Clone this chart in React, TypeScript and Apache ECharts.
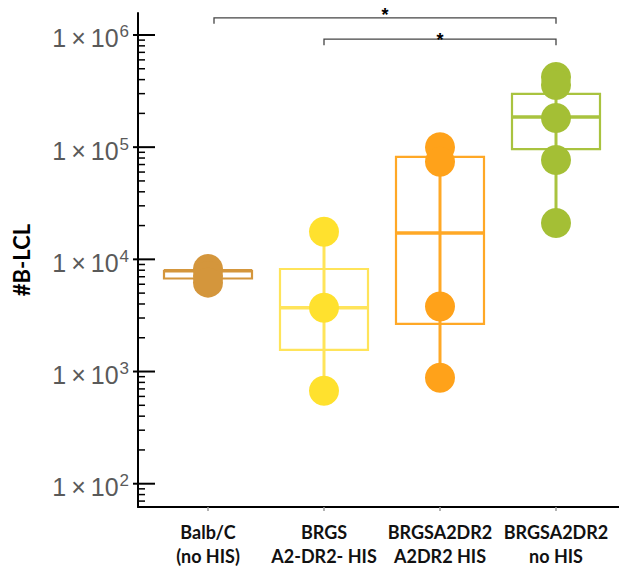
import { useEffect, useRef } from 'react';
import * as echarts from 'echarts';

const categories = ['Balb/C\n(no HIS)', 'BRGS\nA2-DR2- HIS', 'BRGSA2DR2\nA2DR2 HIS', 'BRGSA2DR2\nno HIS'];
const groupColors = ['#D4963C', '#FFE12E', '#FFA21A', '#A4BF35'];
const boxColors = ['#D4963C', '#FFE45A', '#FFA826', '#A9C33F'];

const pointsBalb = [8200, 7100, 6200];
const pointsBRGS = [17600, 3700, 675];
const pointsA2DR2 = [100000, 74000, 3800, 880];
const pointsNoHIS = [423000, 359000, 182000, 77000, 21100];
const groupPoints = [pointsBalb, pointsBRGS, pointsA2DR2, pointsNoHIS];

// box statistics: [min, Q1, median, Q3, max]
const boxBalb = [6200, 6750, 7900, 7900, 8200];
const boxBRGS = [675, 1560, 3700, 8200, 17600];
const boxA2DR2 = [880, 2660, 17200, 82000, 100000];
const boxNoHIS = [21100, 96000, 186000, 298000, 423000];
const groupBoxes = [boxBalb, boxBRGS, boxA2DR2, boxNoHIS];

const yMajorTicks = [100, 1000, 10000, 100000, 1000000];
const yMin = 62;
const yMax = 1570000;

// significance brackets: [from category, to category, line level, end level, label level]
const brackets = [
  [0, 3, 1420000, 1260000, 1620000],
  [1, 3, 920000, 810000, 980000],
];
const bracketLabels = ['*', '*'];

const minorTicks: number[] = [];
[10, ...yMajorTicks].forEach((d) => {
  for (let m = 2; m <= 9; m++) {
    const v = m * d;
    if (v >= yMin && v <= yMax) minorTicks.push(v);
  }
});

export default function App() {
  const ref = useRef<HTMLDivElement>(null);
  useEffect(() => {
    if (!ref.current) return;
    const chart = echarts.init(ref.current, undefined, { renderer: 'svg' });
    const tickData = [
      ...yMajorTicks.map((v) => [0, v, 1]),
      ...minorTicks.map((v) => [0, v, 0]),
    ];
    const option: any = {
      animation: false,
      grid: [
        { left: 138, right: 0, top: 13, bottom: 63 },
        { left: 150, width: 464, top: 13, bottom: 63 },
      ],
      xAxis: [
        {
          gridIndex: 0, type: 'value', min: 0, max: 1,
          axisLine: { show: true, lineStyle: { color: '#000', width: 2 } },
          axisTick: { show: false }, axisLabel: { show: false }, splitLine: { show: false },
        },
        {
          gridIndex: 1, type: 'category', data: categories,
          axisLine: { show: false },
          axisTick: { show: true, alignWithLabel: true, length: 4, lineStyle: { color: '#999', width: 1.5 } },
          axisLabel: {
            margin: 13, color: '#111', fontWeight: 'bold', fontSize: 18, lineHeight: 24,
            fontFamily: 'Lato', interval: 0,
          },
          splitLine: { show: false },
        },
      ],
      yAxis: [
        {
          gridIndex: 0, type: 'log', logBase: 10, min: yMin, max: yMax,
          axisLine: { show: true, lineStyle: { color: '#000', width: 2 } },
          axisTick: { show: false },
          splitLine: { show: false },
          axisLabel: {
            margin: 9,
            showMinLabel: false,
            showMaxLabel: false,
            formatter: (v: number) => {
              const e = Math.log10(v);
              const r = Math.round(e);
              if (Math.abs(e - r) > 1e-6 || !yMajorTicks.includes(Math.pow(10, r))) return '';
              return `{a|1\u2009×\u200910}{b|${r}}`;
            },
            rich: {
              a: { fontSize: 25, color: '#5a5a5a', fontFamily: 'Liberation Sans', padding: [7, 0, 0, 0] },
              b: { fontSize: 17, color: '#5a5a5a', fontFamily: 'Liberation Sans', padding: [0, 0, 6, 1] },
            },
          },
          name: '#B-LCL',
          nameLocation: 'middle',
          nameGap: 106,
          nameTextStyle: { fontSize: 22, fontWeight: 'bold', color: '#000', fontFamily: 'Lato' },
        },
        {
          gridIndex: 1, type: 'log', logBase: 10, min: yMin, max: yMax, show: false,
          splitLine: { show: false },
        },
      ],
      series: [
        {
          type: 'custom',
          name: 'ticks',
          xAxisIndex: 0, yAxisIndex: 0,
          encode: { x: 0, y: 1 },
          data: tickData,
          silent: true,
          renderItem: (params: any, api: any) => {
            const p = api.coord([0, api.value(1)]);
            const major = api.value(2) === 1;
            return {
              type: 'line',
              shape: { x1: p[0] - (major ? 5 : 0), y1: p[1], x2: p[0] + (major ? 17 : 7), y2: p[1] },
              style: { stroke: '#000', lineWidth: major ? 2 : 1.5 },
            };
          },
        },
        {
          type: 'custom',
          name: 'boxes',
          xAxisIndex: 1, yAxisIndex: 1,
          encode: { x: 0, y: [1, 2, 3, 4, 5] },
          data: groupBoxes.map((b, i) => [i, ...b]),
          z: 2,
          renderItem: (params: any, api: any) => {
            const i = api.value(0);
            const pMin = api.coord([i, api.value(1)]);
            const yQ1 = api.coord([i, api.value(2)])[1];
            const yMed = api.coord([i, api.value(3)])[1];
            const yQ3 = api.coord([i, api.value(4)])[1];
            const yMaxP = api.coord([i, api.value(5)])[1];
            const cx = pMin[0];
            const half = 44;
            const c = boxColors[i];
            return {
              type: 'group',
              children: [
                { type: 'line', shape: { x1: cx, y1: yMaxP, x2: cx, y2: pMin[1] }, style: { stroke: c, lineWidth: 3 } },
                { type: 'rect', shape: { x: cx - half, y: yQ3, width: 2 * half, height: yQ1 - yQ3 }, style: { fill: 'none', stroke: c, lineWidth: 2.2 } },
                { type: 'line', shape: { x1: cx - half, y1: yMed, x2: cx + half, y2: yMed }, style: { stroke: c, lineWidth: 3.5 } },
              ],
            };
          },
        },
        ...groupPoints.map((pts, i) => ({
          type: 'scatter',
          xAxisIndex: 1, yAxisIndex: 1,
          data: pts.map((v) => [i, v]),
          symbolSize: 30,
          z: 3,
          itemStyle: { color: groupColors[i], opacity: 1 },
        })),
        {
          type: 'custom',
          name: 'brackets',
          xAxisIndex: 1, yAxisIndex: 1,
          encode: { x: [0, 1], y: [2, 3] },
          data: brackets,
          z: 4,
          renderItem: (params: any, api: any) => {
            const a = api.coord([api.value(0), api.value(2)]);
            const b = api.coord([api.value(1), api.value(2)]);
            const e = api.coord([api.value(0), api.value(3)]);
            const s = api.coord([api.value(0), api.value(4)]);
            const x1 = a[0] + (api.value(0) === 0 ? 6 : 0);
            return {
              type: 'group',
              children: [
                {
                  type: 'polyline',
                  shape: { points: [[x1, e[1]], [x1, a[1]], [b[0], b[1]], [b[0], e[1]]] },
                  style: { stroke: '#444', lineWidth: 1.3, fill: 'none' },
                },
                {
                  type: 'text',
                  style: {
                    text: bracketLabels[params.dataIndex], x: (x1 + b[0]) / 2, y: s[1] + 4,
                    fill: '#000', font: 'bold 18px "Liberation Sans"', align: 'center', verticalAlign: 'middle',
                  },
                },
              ],
            };
          },
        },
      ],
    };
    chart.setOption(option);
    return () => chart.dispose();
  }, []);
  return <div ref={ref} style={{ position: 'absolute', left: 0, top: 0, width: 619, height: 570 }} />;
}
